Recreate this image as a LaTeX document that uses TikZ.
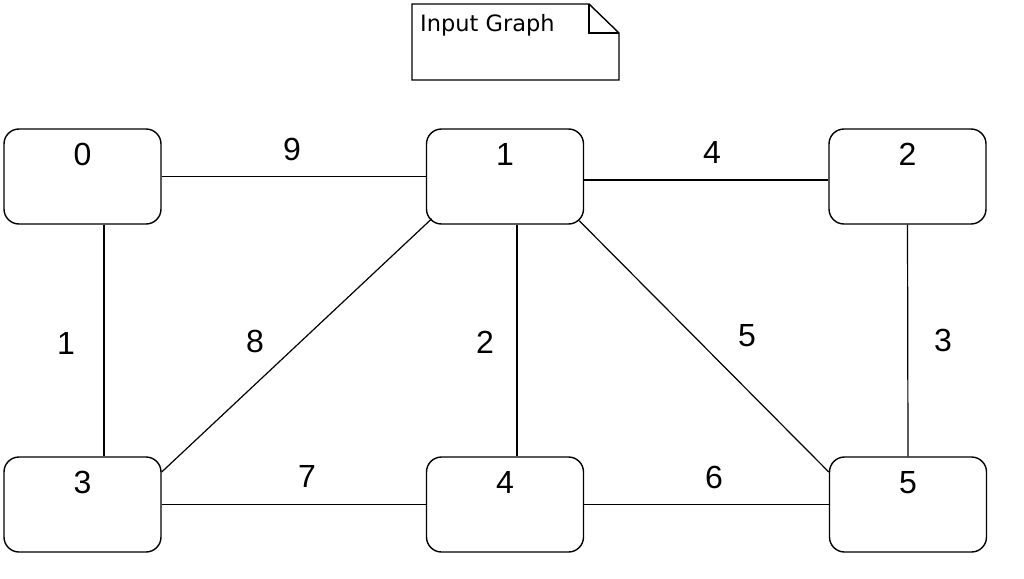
\documentclass[tikz,border=0pt]{standalone}
\usepackage{fontspec}
\setmainfont{Liberation Sans}
\newfontfamily\notefont{DejaVu Sans}
\begin{document}
\begin{tikzpicture}[x=1pt,y=-1pt,
  vtx/.style={draw, line width=1.4pt, rounded corners=15pt, minimum width=157pt,
    inner sep=0pt, text height=36pt, text depth=59pt,
    font=\fontsize{32}{32}\selectfont},
  wlabel/.style={anchor=base, inner sep=0pt, font=\fontsize{32}{32}\selectfont},
  edge/.style={line width=1.2pt}]
\useasboundingbox (0,0) rectangle (1024,578);
% note
\draw[line width=1.4pt] (412,4) -- (589,4) -- (619,33) -- (619,80) -- (412,80) -- cycle;
\draw[line width=1.4pt] (589,4) -- (589,33) -- (619,33);
\node[anchor=base west, inner sep=0pt, font=\notefont\fontsize{22.5}{22.5}\selectfont] (note) at (420,32) {Input Graph};
% vertices
\node[vtx] (n0) at (82.5,176.5) {0};
\node[vtx] (n1) at (505,176.5) {1};
\node[vtx] (n2) at (907.5,176.5) {2};
\node[vtx] (n3) at (82.5,504.5) {3};
\node[vtx] (n4) at (505,504.5) {4};
\node[vtx] (n5) at (908,504.5) {5};
% edges
\draw[edge] (n0.east) -- (n1.west);
\draw[edge] ([yshift=-3.5pt]n1.east) -- ([yshift=-3.5pt]n2.west);
\draw[edge] ([xshift=21.5pt]n0.south) -- ([xshift=21.5pt]n3.north);
\draw[edge] ([xshift=12pt]n1.south) -- ([xshift=12pt]n4.north);
\draw[edge] (n2.south) -- (n5.north);
\draw[edge] ([shift={(6pt,6pt)}]n1.south west) -- ([yshift=32.5pt]n3.east);
\draw[edge] ([shift={(-5pt,4pt)}]n1.south east) -- ([yshift=32.5pt]n5.west);
\draw[edge] (n3.east) -- (n4.west);
\draw[edge] (n4.east) -- (n5.west);
% weights
\node[wlabel] (w01) at (292,160) {9};
\node[wlabel] (w12) at (712,163) {4};
\node[wlabel] (w03) at (66,354) {1};
\node[wlabel] (w13) at (255,352) {8};
\node[wlabel] (w14) at (485,353) {2};
\node[wlabel] (w15) at (747,346) {5};
\node[wlabel] (w25) at (943,351) {3};
\node[wlabel] (w34) at (307,487) {7};
\node[wlabel] (w45) at (714,488) {6};
\end{tikzpicture}
\end{document}
